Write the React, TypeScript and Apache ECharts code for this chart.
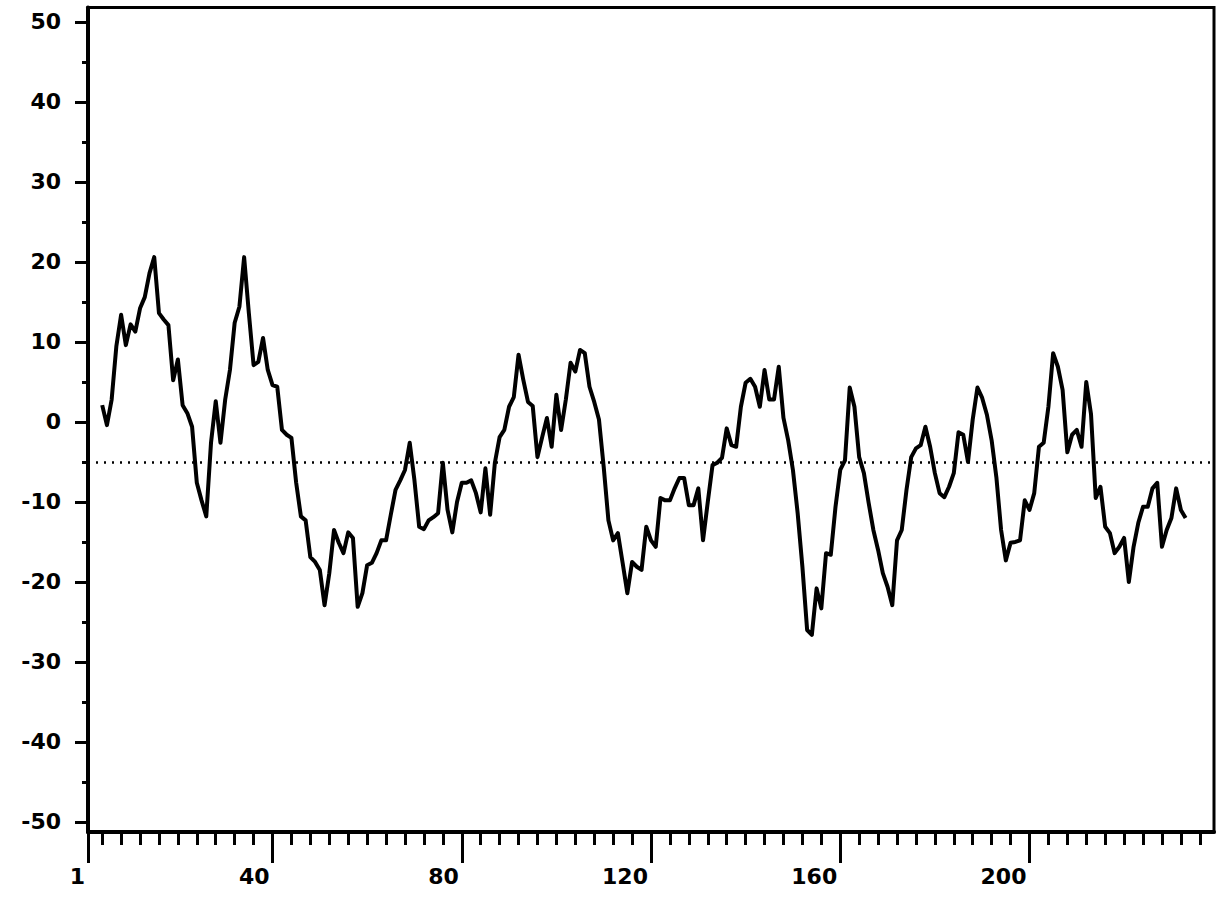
import React, { useEffect, useRef } from "react";
import * as echarts from "echarts";

// First observation index drawn on the chart
const START_INDEX = 4;

// Series values, one per index (START_INDEX, START_INDEX + 1, ...)
const VALUES = [
  2.1, -0.4, 2.8, 9.5, 13.4, 9.6, 12.2, 11.3, 14.2, 15.6,
  18.6, 20.6, 13.6, 12.8, 12.1, 5.2, 7.8, 2.1, 1.1, -0.6,
  -7.6, -9.8, -11.8, -2.6, 2.6, -2.6, 2.8, 6.5, 12.4, 14.4,
  20.6, 13.6, 7.1, 7.5, 10.5, 6.5, 4.6, 4.4, -1.0, -1.6,
  -2.0, -7.6, -11.8, -12.3, -16.9, -17.5, -18.5, -22.9, -18.9, -13.5,
  -15.1, -16.4, -13.8, -14.5, -23.1, -21.4, -17.9, -17.6, -16.4, -14.8,
  -14.8, -11.6, -8.5, -7.3, -6.0, -2.6, -7.3, -13.1, -13.4, -12.3,
  -11.9, -11.4, -5.1, -11.0, -13.8, -10.0, -7.6, -7.6, -7.3, -8.9,
  -11.3, -5.8, -11.6, -5.1, -1.9, -1.0, 1.9, 3.1, 8.4, 5.3,
  2.5, 2.0, -4.4, -1.9, 0.5, -3.1, 3.4, -1.0, 2.8, 7.4,
  6.3, 9.0, 8.6, 4.4, 2.5, 0.3, -5.6, -12.3, -14.8, -13.9,
  -17.6, -21.4, -17.5, -18.1, -18.5, -13.1, -14.8, -15.6, -9.5, -9.8,
  -9.8, -8.3, -7.0, -7.0, -10.4, -10.4, -8.3, -14.8, -10.0, -5.4,
  -5.1, -4.5, -0.8, -2.9, -3.1, 1.9, 4.9, 5.4, 4.4, 1.9,
  6.5, 2.8, 2.8, 6.9, 0.5, -2.3, -6.0, -11.4, -18.1, -26.0,
  -26.6, -20.8, -23.3, -16.4, -16.6, -10.6, -6.0, -4.8, 4.3, 1.9,
  -4.4, -6.4, -10.1, -13.5, -16.0, -18.9, -20.6, -22.9, -14.8, -13.5,
  -8.5, -4.4, -3.3, -2.9, -0.6, -3.1, -6.4, -8.9, -9.4, -8.1,
  -6.4, -1.3, -1.6, -5.0, 0.3, 4.3, 3.0, 0.9, -2.3, -6.9,
  -13.5, -17.3, -15.1, -15.0, -14.8, -9.8, -11.0, -8.9, -3.1, -2.6,
  1.9, 8.6, 6.9, 4.0, -3.8, -1.6, -1.0, -3.1, 5.0, 1.0,
  -9.5, -8.1, -13.1, -13.9, -16.4, -15.6, -14.5, -20.0, -15.6, -12.6,
  -10.6, -10.6, -8.3, -7.6, -15.6, -13.5, -12.0, -8.3, -11.0, -12.0,
];

// Horizontal dotted reference level
const MEAN_LEVEL = -5;

// Axis extents
const X_MIN = 1;
const X_MAX = 239;
const Y_MIN = -51.25;
const Y_MAX = 51.8;

// Tick positions / labels
const X_MAJOR_TICKS = [1, 40, 80, 120, 160, 200];
const X_MINOR_TICKS = [
  4, 8, 12, 16, 20, 24, 28, 32, 36, 44, 48, 52, 56, 60, 64, 68, 72, 76,
  84, 88, 92, 96, 100, 104, 108, 112, 116, 124, 128, 132, 136, 140, 144,
  148, 152, 156, 164, 168, 172, 176, 180, 184, 188, 192, 196, 204, 208,
  212, 216, 220, 224, 228, 232, 236,
];
const Y_MAJOR_TICKS = [-50, -40, -30, -20, -10, 0, 10, 20, 30, 40, 50];
const Y_MINOR_TICKS = [-45, -35, -25, -15, -5, 5, 15, 25, 35, 45];

const FONT = "'DejaVu Sans', sans-serif";
const INK = "#000000";

export default function App() {
  const ref = useRef<HTMLDivElement>(null);

  useEffect(() => {
    if (!ref.current) return;
    const chart = echarts.init(ref.current, undefined, { renderer: "svg" });

    const seriesData = VALUES.map((v, i) => [START_INDEX + i, v]);

    const labelStyle = {
      color: INK,
      fontFamily: FONT,
      fontWeight: "bold" as const,
      fontSize: 22,
    };

    chart.setOption({
      animation: false,
      backgroundColor: "#ffffff",
      grid: {
        left: 88,
        right: 6,
        top: 7.5,
        bottom: 71,
        show: true,
        borderColor: INK,
        borderWidth: 3,
        backgroundColor: "transparent",
      },
      xAxis: [
        {
          type: "value",
          min: X_MIN,
          max: X_MAX,
          position: "bottom",
          offset: 0,
          axisLine: { show: true, onZero: false, lineStyle: { color: INK, width: 4 } },
          axisTick: {
            show: true,
            customValues: X_MAJOR_TICKS,
            length: 31,
            lineStyle: { color: INK, width: 3 },
          },
          axisLabel: {
            show: true,
            customValues: X_MAJOR_TICKS,
            align: "right",
            margin: 33,
            padding: [0, 3, 0, 0],
            ...labelStyle,
          },
          splitLine: { show: false },
        },
        {
          type: "value",
          min: X_MIN,
          max: X_MAX,
          position: "bottom",
          offset: 0,
          axisLine: { show: false, onZero: false },
          axisTick: {
            show: true,
            customValues: X_MINOR_TICKS,
            length: 13,
            lineStyle: { color: INK, width: 3 },
          },
          axisLabel: { show: false },
          splitLine: { show: false },
        },
      ],
      yAxis: [
        {
          type: "value",
          min: Y_MIN,
          max: Y_MAX,
          position: "left",
          offset: 0,
          axisLine: { show: true, onZero: false, lineStyle: { color: INK, width: 4 } },
          axisTick: {
            show: true,
            customValues: Y_MAJOR_TICKS,
            length: 13,
            lineStyle: { color: INK, width: 3 },
          },
          axisLabel: {
            show: true,
            customValues: Y_MAJOR_TICKS,
            margin: 27,
            ...labelStyle,
          },
          splitLine: { show: false },
        },
        {
          type: "value",
          min: Y_MIN,
          max: Y_MAX,
          position: "left",
          offset: 0,
          axisLine: { show: false, onZero: false },
          axisTick: {
            show: true,
            customValues: Y_MINOR_TICKS,
            length: 6,
            lineStyle: { color: INK, width: 3 },
          },
          axisLabel: { show: false },
          splitLine: { show: false },
        },
      ],
      series: [
        {
          type: "line",
          xAxisIndex: 0,
          yAxisIndex: 0,
          data: seriesData,
          showSymbol: false,
          symbol: "none",
          lineStyle: { color: INK, width: 4, join: "round" },
          markLine: {
            silent: true,
            symbol: ["none", "none"],
            label: { show: false },
            lineStyle: { color: INK, width: 2.5, type: [2, 6] },
            data: [{ yAxis: MEAN_LEVEL }],
          },
        },
      ],
    });

    return () => {
      chart.dispose();
    };
  }, []);

  return (
    <div
      ref={ref}
      style={{
        position: "absolute",
        left: 0,
        top: 0,
        width: 1220,
        height: 903,
        background: "#ffffff",
      }}
    />
  );
}
